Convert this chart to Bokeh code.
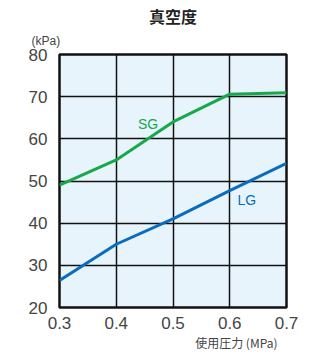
from bokeh.plotting import figure
from bokeh.models import Label, Range1d, FixedTicker, Title
from bokeh.embed import file_html
from bokeh.resources import INLINE

pressure = [0.3, 0.4, 0.45, 0.5, 0.6, 0.7]
sg_vac = [49.0, 55.0, 59.5, 64.0, 70.6, 70.9]
lg_press = [0.3, 0.4, 0.5, 0.6, 0.7]
lg_vac = [26.4, 35.0, 41.0, 47.7, 54.2]
x_ticks = [0.3, 0.4, 0.5, 0.6, 0.7]
y_ticks = [20, 30, 40, 50, 60, 70, 80]

GREEN = "#16a84a"
BLUE = "#0a6cbf"
TXT = "#444444"
FONT = "Liberation Sans"
CJK = "Noto Sans CJK JP"

p = figure(width=308, height=350, output_backend="svg", toolbar_location=None,
           x_range=Range1d(0.3, 0.7), y_range=Range1d(20, 80),
           min_border_left=59, min_border_right=22, min_border_top=53, min_border_bottom=33,
           title="真空度")
p.title.align = "center"
p.title.text_font = CJK
p.title.text_font_size = "16px"
p.title.text_font_style = "bold"
p.title.text_color = "#222222"
p.title.standoff = 2
p.title.text_line_height = 0.6
p.title.vertical_align = "bottom"

kpa = Title(text="(kPa)", align="left", offset=-28, text_font=FONT, text_font_size="12px",
            text_font_style="normal", text_color=TXT, vertical_align="top",
            text_line_height=1.4)
p.add_layout(kpa, "above")

xl = Title(text="使用圧力 (MPa)", align="right", offset=9, text_font=CJK, text_font_size="12px",
           text_font_style="normal", text_color=TXT, standoff=0)
p.add_layout(xl, "below")

p.background_fill_color = "#e8f4fc"
p.border_fill_color = "white"
p.outline_line_color = "#111111"
p.outline_line_width = 2.5

p.xaxis.ticker = FixedTicker(ticks=x_ticks)
p.yaxis.ticker = FixedTicker(ticks=y_ticks)
for ax in (p.xaxis[0], p.yaxis[0]):
    ax.axis_line_color = None
    ax.major_tick_line_color = None
    ax.minor_tick_line_color = None
    ax.major_label_text_font = FONT
    ax.major_label_text_font_size = "17px"
    ax.major_label_text_color = TXT
p.xaxis.major_label_standoff = 3
p.yaxis.major_label_standoff = 6

p.xgrid.ticker = FixedTicker(ticks=x_ticks)
p.ygrid.ticker = FixedTicker(ticks=y_ticks)
p.grid.grid_line_color = "#111111"
p.grid.grid_line_width = 1.5
p.grid.grid_line_alpha = 1.0

p.line(pressure, sg_vac, line_color=GREEN, line_width=3)
p.line(lg_press, lg_vac, line_color=BLUE, line_width=3)

p.add_layout(Label(x=0.456, y=63.4, text="SG", text_color=GREEN, text_font=FONT,
                   text_font_size="14px", text_align="center", text_baseline="middle"))
p.add_layout(Label(x=0.63, y=45.5, text="LG", text_color=BLUE, text_font=FONT,
                   text_font_size="14px", text_align="center", text_baseline="middle"))

open("out.html", "w").write(file_html(p, INLINE))
